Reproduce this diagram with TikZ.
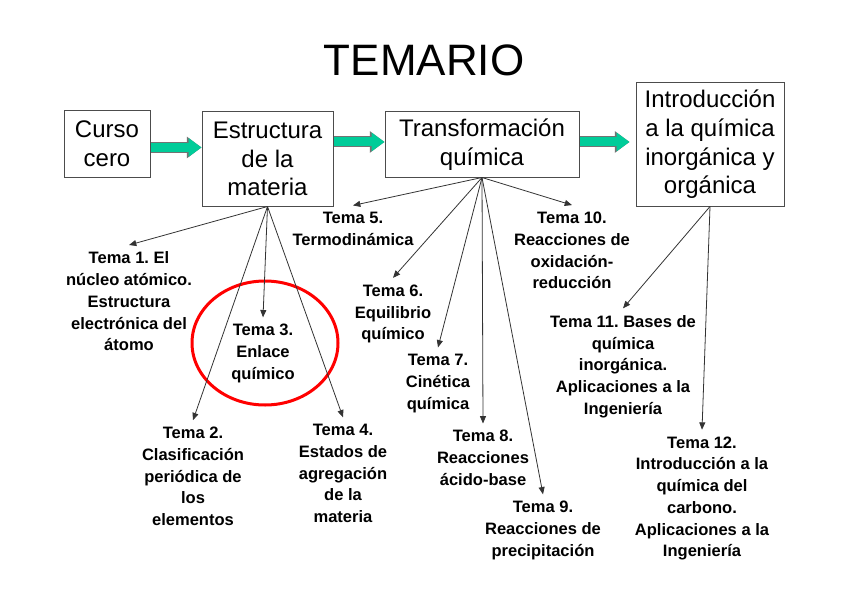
\documentclass[tikz,border=0pt]{standalone}
\usepackage{fontspec}
\setmainfont{Liberation Sans}
\usetikzlibrary{arrows.meta,positioning}
\definecolor{temaverde}{HTML}{00CC99}
\definecolor{temarojo}{HTML}{FF0000}
\frenchspacing

\begin{document}
\begin{tikzpicture}[
  x=0.75pt, y=-0.75pt,
  every node/.style={inner sep=0pt},
  bloque/.style={rectangle, draw=black!70, line width=0.75pt, align=center, font=\fontsize{18}{21.5}\selectfont},
  tema/.style={align=center, inner sep=5pt, font=\fontsize{12.4}{16.3}\selectfont\bfseries},
  paso/.style={-{Triangle[length=9.75pt, width=13.5pt]}, line width=6.75pt, draw=temaverde,
    preaction={draw=black!55, line width=8.25pt, -{Triangle[length=11pt, width=15.5pt]}}},
  flecha/.style={-{Triangle[length=5.5pt, width=4.5pt]}, line width=0.6pt, draw=black!80},
  marca/.style={draw=temarojo, line width=2.25pt}
]
  \useasboundingbox (0,0) rectangle (848,599);

  \node[font=\fontsize{33}{40}\selectfont] (titulo) at (424,60) {TEMARIO};

  \node[bloque, minimum width=64.5pt, minimum height=49.5pt] (curso) at (107,144) {Curso\\cero};
  \node[bloque, minimum width=98.25pt, minimum height=70.5pt] (estructura) at (267.5,159) {Estructura\\de la\\materia};
  \node[bloque, minimum width=145.5pt, minimum height=48.75pt] (transformacion) at (482,144.5) {Transformación\\química};
  \node[bloque, minimum width=111pt, minimum height=92.25pt] (intro) at (710,144.5) {Introducción\\a la química\\inorgánica y\\orgánica};

  \draw[paso] ([yshift=-2.6pt]curso.east) -- ([yshift=-2.6pt]curso.east -| estructura.west);
  \draw[paso] ([yshift=1.9pt]estructura.east |- transformacion.west) -- ([yshift=1.9pt]transformacion.west);
  \draw[paso] ([yshift=1.9pt]transformacion.east) -- ([xshift=-4.5pt, yshift=1.9pt]transformacion.east -| intro.west);

  \node[tema] (tema1) at (129,301.5) {Tema 1. El\\núcleo atómico.\\Estructura\\electrónica del\\átomo};
  \node[tema] (tema2) at (193,476.5) {Tema 2.\\Clasificación\\periódica de\\los\\elementos};
  \node[tema] (tema3) at (263,353.5) {Tema 3.\\Enlace\\químico};
  \node[tema] (tema4) at (343,473.5) {Tema 4.\\Estados de\\agregación\\de la\\materia};
  \node[tema] (tema5) at (353,229) {Tema 5.\\Termodinámica};
  \node[tema] (tema6) at (393,314) {Tema 6.\\Equilibrio\\químico};
  \node[tema] (tema7) at (438,383.5) {Tema 7.\\Cinética\\química};
  \node[tema] (tema8) at (483,458) {Tema 8.\\Reacciones\\ácido-base};
  \node[tema] (tema9) at (543,530.5) {Tema 9.\\Reacciones de\\precipitación};
  \node[tema] (tema10) at (572,250.5) {Tema 10.\\Reacciones de\\oxidación-\\reducción};
  \node[tema] (tema11) at (623,366.5) {Tema 11. Bases de\\química\\inorgánica.\\Aplicaciones a la\\Ingeniería};
  \node[tema] (tema12) at (702,498.5) {Tema 12.\\Introducción a la\\química del\\carbono.\\Aplicaciones a la\\Ingeniería};

  \draw[marca] (265,343) ellipse [x radius=54.75pt, y radius=46.5pt];

  \draw[flecha] (estructura.south) -- (tema1.north);
  \draw[flecha] (estructura.south) -- (tema2.north);
  \draw[flecha] (estructura.south) -- (tema3.north);
  \draw[flecha] (estructura.south) -- (tema4.north);
  \draw[flecha] (transformacion.south) -- (tema5.north);
  \draw[flecha] (transformacion.south) -- (tema6.north);
  \draw[flecha] (transformacion.south) -- (tema7.north);
  \draw[flecha] (transformacion.south) -- (tema8.north);
  \draw[flecha] (transformacion.south) -- (tema9.north);
  \draw[flecha] (transformacion.south) -- (tema10.north);
  \draw[flecha] (intro.south) -- (tema11.north);
  \draw[flecha] (intro.south) -- (tema12.north);
\end{tikzpicture}
\end{document}
